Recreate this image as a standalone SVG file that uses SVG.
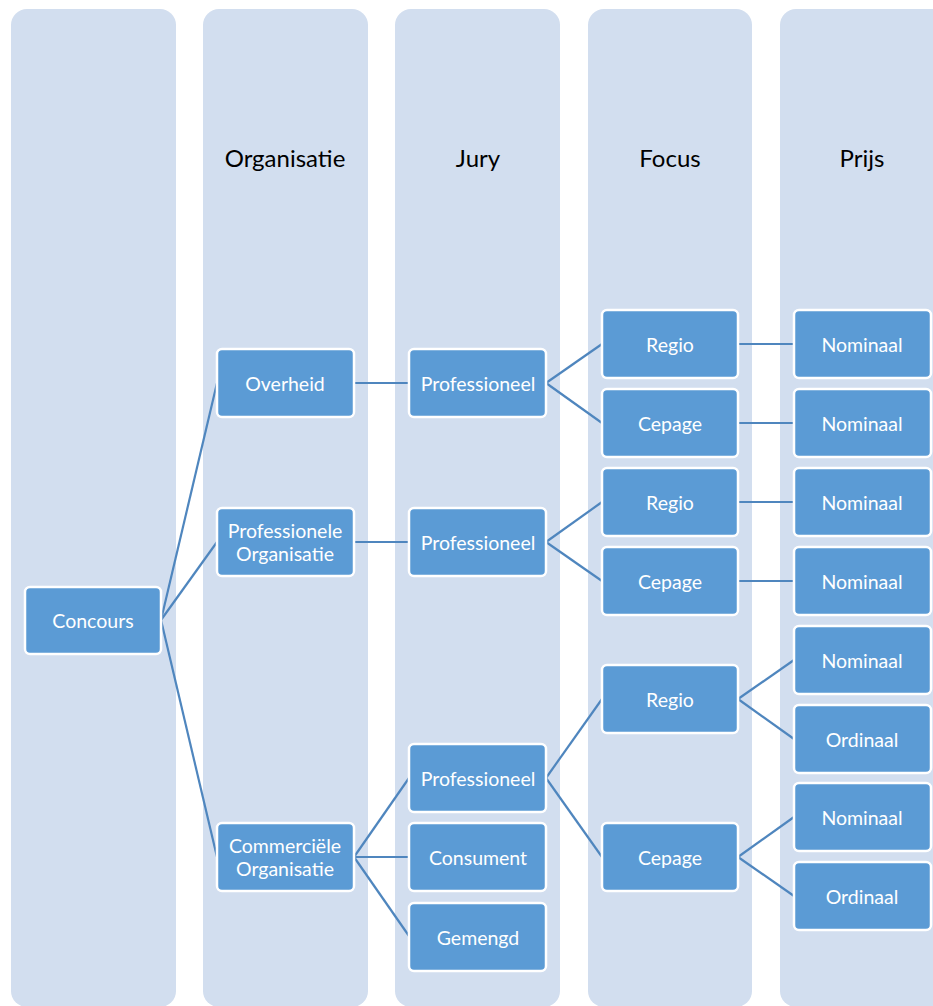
<svg xmlns="http://www.w3.org/2000/svg" width="933" height="1006" viewBox="0 0 933 1006">
<style>
.col{fill:#D2DEEF;}
.hd{font-family:Lato,"Open Sans","Liberation Sans",sans-serif;font-size:24px;fill:#000;text-anchor:middle;}
.n rect{fill:#5B9BD5;stroke:#FFFFFF;stroke-width:2.5;}
.n text{font-family:Lato,"Open Sans","Liberation Sans",sans-serif;font-size:19.5px;fill:#FFFFFF;text-anchor:middle;dominant-baseline:central;}
.c line{stroke:#4F86BE;stroke-width:2.2;}
</style>
<rect width="933" height="1006" fill="#FFFFFF"/>
<g id="columns">
<rect class="col" x="11" y="9" width="165" height="998" rx="16"/>
<rect class="col" x="203" y="9" width="165" height="998" rx="16"/>
<rect class="col" x="395" y="9" width="165" height="998" rx="16"/>
<rect class="col" x="588" y="9" width="164" height="998" rx="16"/>
<rect class="col" x="780" y="9" width="180" height="998" rx="16"/>
<text class="hd" x="285" y="167">Organisatie</text>
<text class="hd" x="478" y="167">Jury</text>
<text class="hd" x="670" y="167">Focus</text>
<text class="hd" x="862" y="167">Prijs</text>
</g>
<g id="connectors" class="c">
<line x1="161" y1="620" x2="217" y2="383"/>
<line x1="161" y1="620" x2="217" y2="542"/>
<line x1="161" y1="620" x2="217" y2="857"/>
<line x1="354" y1="383" x2="409" y2="383"/>
<line x1="354" y1="542" x2="409" y2="542"/>
<line x1="354" y1="857" x2="409" y2="778"/>
<line x1="354" y1="857" x2="409" y2="857"/>
<line x1="354" y1="857" x2="409" y2="936"/>
<line x1="546" y1="383" x2="602" y2="344"/>
<line x1="546" y1="383" x2="602" y2="423"/>
<line x1="546" y1="542" x2="602" y2="502"/>
<line x1="546" y1="542" x2="602" y2="581"/>
<line x1="546" y1="778" x2="602" y2="699"/>
<line x1="546" y1="778" x2="602" y2="857"/>
<line x1="738" y1="344" x2="794" y2="344"/>
<line x1="738" y1="423" x2="794" y2="423"/>
<line x1="738" y1="502" x2="794" y2="502"/>
<line x1="738" y1="581" x2="794" y2="581"/>
<line x1="738" y1="699" x2="794" y2="660"/>
<line x1="738" y1="699" x2="794" y2="739"/>
<line x1="738" y1="857" x2="794" y2="817"/>
<line x1="738" y1="857" x2="794" y2="896"/>
</g>
<g id="concours" class="n"><rect x="25" y="587" width="136" height="67" rx="5"/><text x="93" y="620">Concours</text></g>
<g id="overheid" class="n"><rect x="217" y="349" width="137" height="68" rx="5"/><text x="285" y="383">Overheid</text></g>
<g id="prof-org" class="n"><rect x="217" y="508" width="137" height="68" rx="5"/><text x="285" y="530">Professionele</text><text x="285" y="553">Organisatie</text></g>
<g id="comm-org" class="n"><rect x="217" y="823" width="137" height="68" rx="5"/><text x="285" y="845">Commerciële</text><text x="285" y="868">Organisatie</text></g>
<g id="jury1" class="n"><rect x="409" y="349" width="137" height="68" rx="5"/><text x="478" y="383">Professioneel</text></g>
<g id="jury2" class="n"><rect x="409" y="508" width="137" height="68" rx="5"/><text x="478" y="542">Professioneel</text></g>
<g id="jury3" class="n"><rect x="409" y="744" width="137" height="68" rx="5"/><text x="478" y="778">Professioneel</text></g>
<g id="consument" class="n"><rect x="409" y="823" width="137" height="68" rx="5"/><text x="478" y="857">Consument</text></g>
<g id="gemengd" class="n"><rect x="409" y="903" width="137" height="68" rx="5"/><text x="478" y="937">Gemengd</text></g>
<g id="regio1" class="n"><rect x="602" y="310" width="136" height="68" rx="5"/><text x="670" y="344">Regio</text></g>
<g id="cepage1" class="n"><rect x="602" y="389" width="136" height="68" rx="5"/><text x="670" y="423">Cepage</text></g>
<g id="regio2" class="n"><rect x="602" y="468" width="136" height="68" rx="5"/><text x="670" y="502">Regio</text></g>
<g id="cepage2" class="n"><rect x="602" y="547" width="136" height="68" rx="5"/><text x="670" y="581">Cepage</text></g>
<g id="regio3" class="n"><rect x="602" y="665" width="136" height="68" rx="5"/><text x="670" y="699">Regio</text></g>
<g id="cepage3" class="n"><rect x="602" y="823" width="136" height="68" rx="5"/><text x="670" y="857">Cepage</text></g>
<g id="prijs1" class="n"><rect x="794" y="310" width="137" height="68" rx="5"/><text x="862" y="344">Nominaal</text></g>
<g id="prijs2" class="n"><rect x="794" y="389" width="137" height="68" rx="5"/><text x="862" y="423">Nominaal</text></g>
<g id="prijs3" class="n"><rect x="794" y="468" width="137" height="68" rx="5"/><text x="862" y="502">Nominaal</text></g>
<g id="prijs4" class="n"><rect x="794" y="547" width="137" height="68" rx="5"/><text x="862" y="581">Nominaal</text></g>
<g id="prijs5" class="n"><rect x="794" y="626" width="137" height="68" rx="5"/><text x="862" y="660">Nominaal</text></g>
<g id="prijs6" class="n"><rect x="794" y="705" width="137" height="68" rx="5"/><text x="862" y="739">Ordinaal</text></g>
<g id="prijs7" class="n"><rect x="794" y="783" width="137" height="68" rx="5"/><text x="862" y="817">Nominaal</text></g>
<g id="prijs8" class="n"><rect x="794" y="862" width="137" height="68" rx="5"/><text x="862" y="896">Ordinaal</text></g>
</svg>
